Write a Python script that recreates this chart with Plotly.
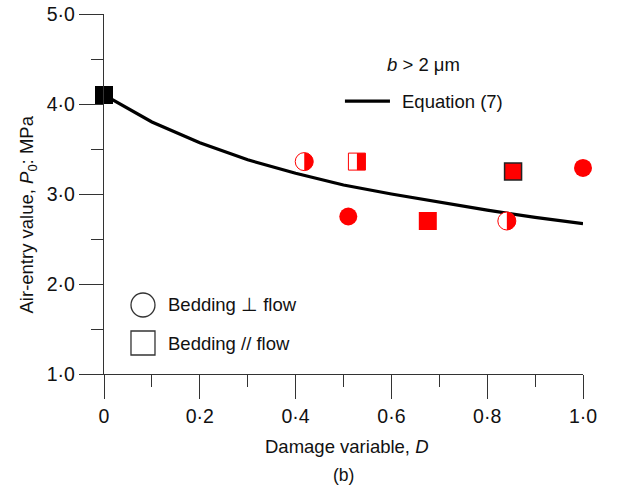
import numpy as np
import plotly.graph_objects as go

# ---- data ----
curve_D = [0.0, 0.1, 0.2, 0.3, 0.4, 0.5, 0.6, 0.7, 0.8, 0.9, 1.0]
curve_P = [4.10, 3.80, 3.57, 3.38, 3.23, 3.10, 3.00, 2.91, 2.82, 2.74, 2.67]

perp_full_D = [0.51, 1.0]
perp_full_P = [2.75, 3.29]
perp_half_D = [0.418, 0.841]
perp_half_P = [3.36, 2.70]

par_full_D = [0.676]
par_full_P = [2.70]
par_outl_D = [0.854]
par_outl_P = [3.25]
par_half_D = [0.528]
par_half_P = [3.36]
par_black_D = [0.0]
par_black_P = [4.10]

x_tickvals = [0, 0.2, 0.4, 0.6, 0.8, 1.0]
x_ticktext = ["0", "0·2", "0·4", "0·6", "0·8", "1·0"]
y_tickvals = [1, 2, 3, 4, 5]
y_ticktext = ["1·0", "2·0", "3·0", "4·0", "5·0"]

RED = "#ff0000"
AX = "#333333"
FONT = "Liberation Sans, Arial, sans-serif"
FS = 18.5

fig = go.Figure()
fig.add_trace(go.Scatter(x=curve_D, y=curve_P, mode="lines",
                         line=dict(color="black", width=3.2), cliponaxis=False))
# filled circles
fig.add_trace(go.Scatter(x=perp_full_D, y=perp_full_P, mode="markers", cliponaxis=False,
                         marker=dict(symbol="circle", size=18, color=RED, line=dict(width=0))))
# half circles (base)
fig.add_trace(go.Scatter(x=perp_half_D, y=perp_half_P, mode="markers", cliponaxis=False,
                         marker=dict(symbol="circle", size=18, color="white", line=dict(width=1, color=RED))))
# filled squares
fig.add_trace(go.Scatter(x=par_full_D, y=par_full_P, mode="markers", cliponaxis=False,
                         marker=dict(symbol="square", size=18, color=RED, line=dict(width=0))))
fig.add_trace(go.Scatter(x=par_outl_D, y=par_outl_P, mode="markers", cliponaxis=False,
                         marker=dict(symbol="square", size=17, color=RED, line=dict(width=1.5, color="#222"))))
fig.add_trace(go.Scatter(x=par_half_D, y=par_half_P, mode="markers", cliponaxis=False,
                         marker=dict(symbol="square", size=17, color="white", line=dict(width=1, color=RED))))
fig.add_trace(go.Scatter(x=par_black_D, y=par_black_P, mode="markers", cliponaxis=False,
                         marker=dict(symbol="square", size=18, color="black", line=dict(width=0))))

shapes = []
# right halves of half-filled circles
r = 9
t = np.linspace(-np.pi / 2, np.pi / 2, 25)
path = "M " + " L ".join(f"{r*np.cos(a):.2f},{r*np.sin(a):.2f}" for a in t) + " Z"
for d, p in zip(perp_half_D, perp_half_P):
    shapes.append(dict(type="path", xref="x", yref="y", xsizemode="pixel", ysizemode="pixel",
                       xanchor=d, yanchor=p, path=path, fillcolor=RED, line=dict(width=0)))
for d, p in zip(par_half_D, par_half_P):
    shapes.append(dict(type="rect", xref="x", yref="y", xsizemode="pixel", ysizemode="pixel",
                       xanchor=d, yanchor=p, x0=0, x1=8.5, y0=-8.5, y1=8.5,
                       fillcolor=RED, line=dict(width=0)))

# legend symbols
shapes.append(dict(type="circle", xref="paper", yref="paper", xsizemode="pixel", ysizemode="pixel",
                   xanchor=0.0814, yanchor=0.1917, x0=-12, x1=12, y0=-12, y1=12,
                   line=dict(color=AX, width=1.3), fillcolor="white"))
shapes.append(dict(type="rect", xref="paper", yref="paper", xsizemode="pixel", ysizemode="pixel",
                   xanchor=0.0814, yanchor=0.0861, x0=-12, x1=12, y0=-12, y1=12,
                   line=dict(color=AX, width=1.3), fillcolor="white"))
shapes.append(dict(type="line", xref="paper", yref="paper", x0=0.503, x1=0.597, y0=0.758, y1=0.758,
                   line=dict(color="black", width=3.2)))

annotations = [
    dict(text="<i>b</i> > 2 μm", x=0.668, y=0.861, xref="paper", yref="paper",
         showarrow=False, xanchor="center", yanchor="middle"),
    dict(text="Equation (7)", x=0.618, y=0.758, xref="paper", yref="paper",
         showarrow=False, xanchor="left", yanchor="middle"),
    dict(text="Bedding ⊥ flow", x=0.1294, y=0.1917, xref="paper", yref="paper",
         showarrow=False, xanchor="left", yanchor="middle"),
    dict(text="Bedding // flow", x=0.1294, y=0.0861, xref="paper", yref="paper",
         showarrow=False, xanchor="left", yanchor="middle"),
    dict(text="Damage variable, <i>D</i>", x=0.507, y=-0.2, xref="paper", yref="paper",
         showarrow=False, xanchor="center", yanchor="middle"),
    dict(text="(b)", x=0.5, y=-0.281, xref="paper", yref="paper",
         showarrow=False, xanchor="center", yanchor="middle", font=dict(size=17.5)),
    dict(text="Air-entry value, <i>P</i><sub>0</sub>: MPa", x=-0.158, y=0.444,
         xref="paper", yref="paper", showarrow=False, textangle=-90,
         xanchor="center", yanchor="middle"),
]

fig.update_layout(
    width=617, height=493,
    margin=dict(l=104, r=34, t=14, b=119, autoexpand=False),
    paper_bgcolor="white", plot_bgcolor="white",
    showlegend=False,
    font=dict(family=FONT, size=FS, color="#111"),
    shapes=shapes, annotations=annotations,
    xaxis=dict(range=[0, 1], tickvals=x_tickvals, ticktext=x_ticktext,
               tickfont=dict(size=19.5), automargin=False,
               showgrid=False, zeroline=False, showline=True, linecolor=AX, linewidth=1.3,
               ticks="outside", ticklen=24, tickwidth=1.3, tickcolor=AX,
               minor=dict(dtick=0.1, tick0=0, ticks="outside", ticklen=12, tickwidth=1.3, tickcolor=AX),
               fixedrange=True),
    yaxis=dict(range=[1, 5], tickvals=y_tickvals, ticktext=y_ticktext,
               tickfont=dict(size=19.5), automargin=False,
               showgrid=False, zeroline=False, showline=True, linecolor=AX, linewidth=1.3,
               ticks="outside", ticklen=24, tickwidth=1.3, tickcolor=AX,
               minor=dict(dtick=0.5, tick0=0, ticks="outside", ticklen=12, tickwidth=1.3, tickcolor=AX),
               fixedrange=True),
)

fig.write_html("out.html")
